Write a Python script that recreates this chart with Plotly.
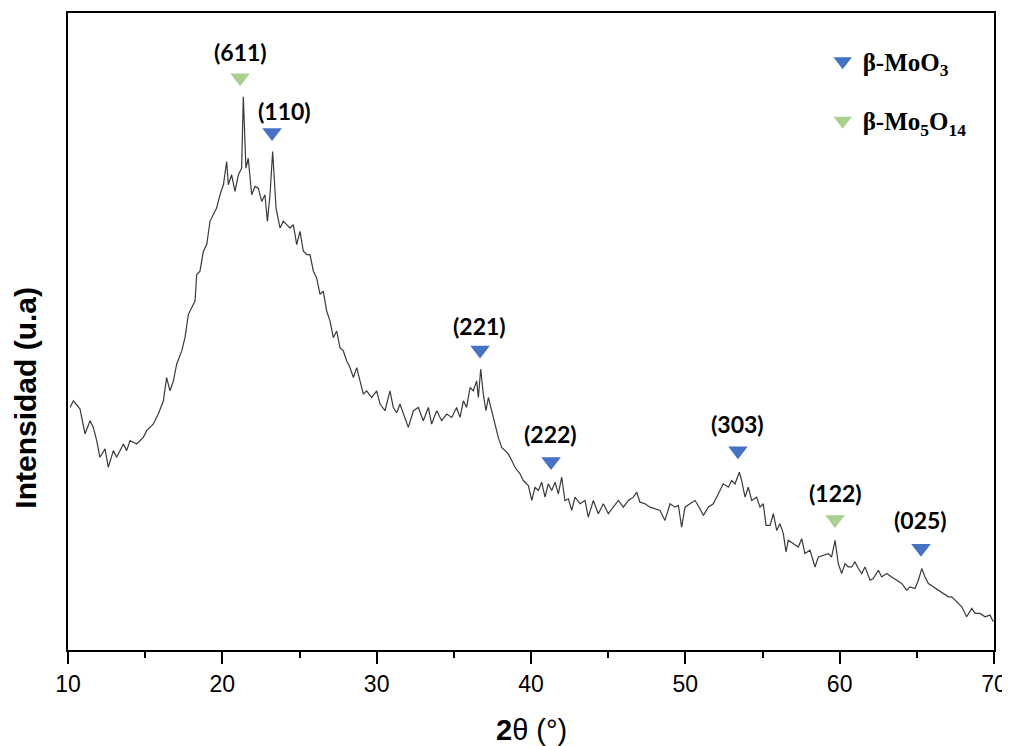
import plotly.graph_objects as go

# 2-theta (deg) and intensity (a.u.)
two_theta = [10.13, 10.35, 10.78, 11.10, 11.43, 11.64, 11.86, 12.07, 12.40, 12.61, 12.94, 13.15, 13.59, 13.80,
             14.02, 14.45, 14.88, 15.10, 15.53, 15.85, 16.18, 16.39, 16.61, 16.83, 17.04, 17.37, 17.58, 17.80,
             18.01, 18.23, 18.34, 18.55, 18.77, 18.99, 19.20, 19.42, 19.63, 19.85, 20.07, 20.28, 20.39, 20.60,
             20.82, 21.04, 21.25, 21.36, 21.53, 21.68, 21.90, 22.12, 22.33, 22.55, 22.76, 22.92, 23.09, 23.26,
             23.48, 23.74, 23.95, 24.17, 24.38, 24.60, 24.82, 25.03, 25.25, 25.47, 25.68, 25.90, 26.11, 26.33,
             26.54, 26.76, 26.98, 27.19, 27.41, 27.62, 27.84, 28.06, 28.27, 28.49, 28.71, 28.92, 29.14, 29.35,
             29.68, 30.00, 30.22, 30.54, 30.86, 31.08, 31.30,
             31.51, 31.73, 32.05, 32.38, 32.70, 33.02, 33.35, 33.56, 33.89, 34.21, 34.54, 34.86, 35.18, 35.40,
             35.62, 35.83, 36.05, 36.26, 36.48, 36.59, 36.74, 36.91, 37.08, 37.24, 37.45, 37.67, 37.88, 38.10,
             38.32, 38.53, 38.75, 38.96, 39.29, 39.50, 39.83, 40.05, 40.26, 40.48, 40.69, 40.91, 41.12, 41.34,
             41.56, 41.77, 41.99, 42.20, 42.42, 42.64, 42.85, 43.18, 43.50, 43.71, 44.04, 44.36, 44.69, 45.01,
             45.33, 45.66, 45.98, 46.31, 46.63, 46.85, 47.06, 47.39, 47.71, 48.04, 48.36, 48.68, 49.01, 49.33,
             49.55, 49.76, 49.98, 50.30, 50.63, 50.95,
             51.17, 51.49, 51.81, 52.14, 52.46, 52.79, 53.00, 53.22, 53.50, 53.65, 53.87, 54.08, 54.30, 54.62,
             54.84, 55.05, 55.23, 55.49, 55.70, 55.92, 56.13, 56.35, 56.52, 56.67, 57.00, 57.32, 57.54, 57.75,
             58.08, 58.40, 58.62, 58.94, 59.26, 59.48, 59.70, 59.91, 60.13, 60.35, 60.56, 60.78, 60.99, 61.21,
             61.43, 61.64, 61.97, 62.18, 62.51, 62.72, 63.05, 63.37, 63.70, 64.02, 64.34, 64.56, 64.88, 65.10,
             65.32, 65.53, 65.75, 66.07, 66.39, 66.72, 67.04, 67.26, 67.58, 67.91, 68.23, 68.56, 68.77, 69.09,
             69.42, 69.74, 69.96]
intensity = [243.3, 250.0, 241.7, 216.7, 230.0, 223.3, 210.0, 193.3, 201.7, 183.3, 200.0, 193.3, 206.7, 200.0,
             210.0, 206.7, 213.3, 220.0, 226.7, 236.7, 250.0, 273.3, 260.0, 270.0, 286.7, 300.0, 313.3, 336.7,
             343.3, 350.0, 376.7, 380.0, 400.0, 406.7, 430.0, 436.7, 443.3, 456.7, 466.7, 490.0, 466.7, 476.7,
             460.0, 476.7, 483.3, 555.0, 483.3, 493.3, 456.7, 465.0, 463.3, 450.0, 456.7, 430.0, 456.7, 500.0,
             443.3, 423.3, 430.0, 426.7, 423.3, 426.7, 406.7, 420.0, 400.0, 396.7, 396.7, 380.0, 373.3, 356.7,
             360.0, 340.0, 330.0, 313.3, 320.0, 303.3, 300.0, 290.0, 283.3, 273.3, 283.3, 270.0, 256.7, 260.0,
             253.3, 260.0, 246.7, 240.0, 260.0, 243.3, 238.0,
             246.7, 236.7, 223.3, 240.0, 243.3, 230.0, 243.3, 226.7, 240.0, 230.0, 236.7, 233.3, 243.3, 233.3,
             250.0, 243.3, 263.3, 260.0, 270.0, 253.3, 281.7, 256.7, 240.0, 253.3, 240.0, 226.7, 213.3, 203.3,
             200.0, 196.7, 190.0, 183.3, 176.7, 170.0, 165.0, 150.0, 163.3, 160.0, 168.3, 153.3, 166.7, 160.0,
             168.3, 156.7, 173.3, 150.0, 151.7, 140.0, 153.3, 146.7, 150.0, 133.3, 150.0, 136.7, 146.7, 136.7,
             143.3, 150.0, 143.3, 150.0, 153.3, 158.3, 148.3, 146.7, 143.3, 141.7, 140.0, 130.0, 146.7, 143.3,
             145.0, 123.3, 143.3, 146.7, 150.0, 141.7,
             135.0, 143.3, 146.7, 156.7, 166.7, 163.3, 170.0, 166.7, 178.3, 170.0, 153.3, 163.3, 150.0, 153.3,
             143.3, 146.7, 125.0, 125.0, 136.7, 120.0, 126.7, 116.7, 98.3, 110.0, 106.7, 103.3, 111.7, 96.7,
             100.0, 83.3, 93.3, 95.0, 96.7, 93.3, 110.0, 86.7, 76.7, 86.7, 83.3, 83.3, 88.3, 81.7,
             76.7, 83.3, 70.0, 71.7, 80.0, 73.3, 76.7, 73.3, 70.0, 66.7, 60.0, 63.3, 61.7, 70.0,
             81.7, 73.3, 66.7, 63.3, 60.0, 56.7, 53.3, 53.3, 48.3, 43.3, 33.3, 41.7, 36.7, 36.7,
             33.3, 35.0, 28.3]

# Peak marks
moo3_pos = [23.22, 36.70, 41.30, 53.41, 65.27]
moo3_int = [519, 301, 189, 200, 102]
moo3_hkl = ["(110)", "(221)", "(222)", "(303)", "(025)"]
moo3_lab_pos = [24.0, 36.65, 41.25, 53.35, 65.25]
moo3_lab_int = [541, 325, 217, 227, 130]

mo5_pos = [21.15, 59.70]
mo5_int = [574, 131]
mo5_hkl = ["(611)", "(122)"]
mo5_lab_pos = [21.15, 59.70]
mo5_lab_int = [600, 157]

BLUE = "#4472C4"
GREEN = "#A9D18E"

fig = go.Figure()
fig.add_trace(go.Scatter(x=two_theta, y=intensity, mode="lines",
                         line=dict(color="#3a3a3a", width=1.2), showlegend=False))
fig.add_trace(go.Scatter(x=moo3_pos, y=moo3_int, mode="markers", name="<b>β-MoO<sub>3</sub></b>",
                         marker=dict(symbol="triangle-down", size=17, color=BLUE,
                                     line=dict(width=0)), legendgroup="a"))
fig.add_trace(go.Scatter(x=mo5_pos, y=mo5_int, mode="markers", name="<b>β-Mo<sub>5</sub>O<sub>14</sub></b>",
                         marker=dict(symbol="triangle-down", size=17, color=GREEN,
                                     line=dict(width=0)), legendgroup="b"))

for xs, ys, labs in [(moo3_lab_pos, moo3_lab_int, moo3_hkl), (mo5_lab_pos, mo5_lab_int, mo5_hkl)]:
    for xv, yv, t in zip(xs, ys, labs):
        fig.add_annotation(x=xv, y=yv, text="<b>" + t + "</b>", showarrow=False,
                           font=dict(family="Lato, Open Sans, sans-serif", size=23, color="black"))

fig.add_annotation(xref="paper", yref="paper", x=0.5, y=-0.125, xanchor="center", yanchor="middle",
                   text="<b>2</b>θ (°)", showarrow=False,
                   font=dict(family="Liberation Sans, Arial", size=29, color="black"))
fig.add_annotation(xref="paper", yref="paper", x=-0.0454, y=0.396, xanchor="center", yanchor="middle",
                   text="<b>Intensidad (u.a)</b>", textangle=-90, showarrow=False,
                   font=dict(family="Liberation Sans, Arial", size=30, color="black"))

fig.update_layout(
    width=1002, height=738,
    margin=dict(l=60, r=16, t=3, b=96),
    paper_bgcolor="white", plot_bgcolor="white",
    legend=dict(x=0.815, y=0.96, xanchor="left", yanchor="top", tracegroupgap=24,
                font=dict(family="Liberation Serif, Times New Roman, serif", size=25, color="black"),
                bgcolor="rgba(0,0,0,0)"),
    xaxis=dict(range=[10, 70], tickvals=[10, 20, 30, 40, 50, 60, 70], ticks="outside", ticklen=12,
               tickwidth=1.5, tickcolor="black", showline=True, linecolor="black", linewidth=2,
               mirror=True, showgrid=False, zeroline=False,
               minor=dict(tickvals=[15, 25, 35, 45, 55, 65], ticks="outside", ticklen=6, tickwidth=1.5,
                          tickcolor="black"),
               tickfont=dict(family="Liberation Sans, Arial", size=23, color="black")),
    yaxis=dict(range=[0, 639], showticklabels=False, ticks="", showline=True, linecolor="black",
               linewidth=2, mirror=True, showgrid=False, zeroline=False),
)

fig.write_html("out.html", config={"displayModeBar": False})
